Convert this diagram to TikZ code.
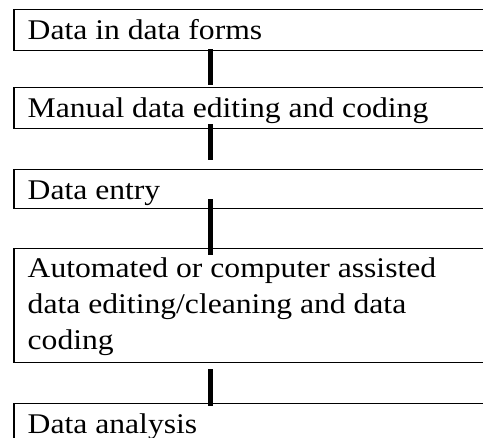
\documentclass[tikz,border=0pt]{standalone}
\usepackage{fontspec}
\setmainfont[FakeStretch=1.11]{Liberation Serif}
\usetikzlibrary{calc}
\begin{document}
\begin{tikzpicture}[x=1pt,y=-1pt,
  box/.style={draw, line width=1.5pt, minimum width=490pt, anchor=north west, inner sep=0pt},
  txt/.style={anchor=base west, inner sep=0pt, font=\fontsize{28.5}{36}\selectfont},
  conn/.style={line width=5pt}]
\useasboundingbox (0,0) rectangle (483,438);
\clip (0,0) rectangle (483,438);
\coordinate (cx) at (210,0);
\node[box, minimum height=41pt] (b1) at (13,9) {};
\node[box, minimum height=41pt] (b2) at (13,87) {};
\node[box, minimum height=39pt] (b3) at (13,169) {};
\node[box, minimum height=114pt] (b4) at (13,248) {};
\node[box, minimum height=60pt] (b5) at (13,403) {};
\node[txt] (t1) at (27.5,39.5) {Data in data forms};
\node[txt] (t2) at (27.5,117.5) {Manual data editing and coding};
\node[txt] (t3) at (27.5,199.5) {Data entry};
\node[txt] (t4a) at (27.5,278) {Automated or computer assisted};
\node[txt] (t4b) at (27.5,314) {data editing/cleaning and data};
\node[txt] (t4c) at (27.5,350) {coding};
\node[txt] (t5) at (27.5,434) {Data analysis};
\draw[conn] ($(b1.south -| cx)+(0,-2)$) -- ($(b2.north -| cx)+(0,-2)$);
\draw[conn] ($(b2.south -| cx)+(0,-5)$) -- ($(b3.north -| cx)+(0,-9)$);
\draw[conn] ($(b3.south -| cx)+(0,-10)$) -- ($(b4.north -| cx)+(0,7)$);
\draw[conn] ($(b4.south -| cx)+(0,6)$) -- ($(b5.north -| cx)+(0,3)$);
\end{tikzpicture}
\end{document}
